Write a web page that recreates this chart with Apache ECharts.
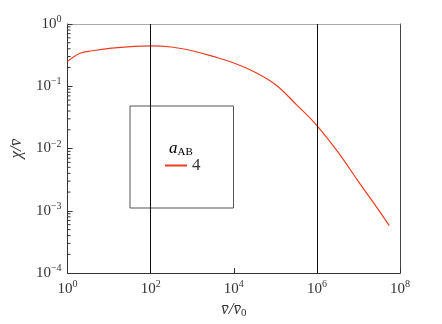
<!DOCTYPE html>
<html>
<head>
<meta charset="utf-8">
<script src="https://cdn.jsdelivr.net/npm/echarts@6/dist/echarts.min.js"></script>
<style>
  html, body { margin: 0; padding: 0; background: #fff; }
  #chart { width: 442px; height: 324px; }
</style>
</head>
<body>
<div id="chart"></div>
<script>
// curve (x = v/v0, y = chi/v)
const xVals = [1, 2, 4, 10, 32, 100, 316, 1000, 3160, 1e4, 3.16e4, 1e5, 3.16e5, 1e6, 3.16e6, 1e7, 3.16e7, 5.5e7];
const yVals = [0.251, 0.339, 0.372, 0.407, 0.432, 0.446, 0.427, 0.372, 0.302, 0.237, 0.170, 0.107, 0.0513, 0.0234, 0.0089, 0.00295, 0.00100, 0.00058];
const seriesName = '4';
const legendTitle = 'a';
const legendTitleSub = 'AB';
const refLines = [100, 1e6];
const yDecades = [1e-4, 1e-3, 1e-2, 1e-1];

const serif = 'Liberation Serif, DejaVu Serif, serif';
const red = '#f03c1e';

// minor ticks at 2..9 of each decade on the y axis
const minorTicks = [];
yDecades.forEach(function (d) {
  for (let k = 2; k <= 9; k++) minorTicks.push([1, d * k]);
});

function powLabel(v) {
  const e = Math.round(Math.log10(v));
  return '{b|10}{s|' + (e < 0 ? '\u2212' + (-e) : e) + '}';
}

const labelRich = {
  b: { fontFamily: serif, fontSize: 15, color: '#333' },
  s: { fontFamily: serif, fontSize: 10, color: '#333', padding: [0, 0, 9, 0] }
};

const chart = echarts.init(document.getElementById('chart'));
chart.setOption({
  animation: false,
  textStyle: { fontFamily: serif },
  grid: { left: 67, right: 42, top: 24, bottom: 49 },
  legend: {
    data: [seriesName],
    left: 130, top: 106,
    orient: 'vertical',
    padding: [51, 33, 34, 35],
    borderColor: '#555', borderWidth: 1,
    itemWidth: 22, itemHeight: 10, itemGap: 5,
    icon: 'path://M0,4L22,4L22,6L0,6Z',
    textStyle: { fontFamily: serif, fontSize: 17, color: '#333' }
  },
  graphic: [{
    type: 'text',
    left: 169, top: 140,
    style: {
      text: '{a|' + legendTitle + '}{s|' + legendTitleSub + '}',
      rich: {
        a: { fontFamily: serif, fontStyle: 'italic', fontSize: 17, color: '#333' },
        s: { fontFamily: serif, fontSize: 11, color: '#333', padding: [8, 0, 0, 0] }
      }
    }
  }],
  xAxis: [{
    type: 'log', logBase: 10, min: 1, max: 1e8, interval: 2,
    position: 'bottom',
    axisLine: { lineStyle: { color: '#333', width: 1 } },
    axisTick: { inside: true, length: 5, lineStyle: { color: '#333' } },
    axisLabel: { formatter: powLabel, rich: labelRich, margin: 6 },
    splitLine: { show: false },
    name: '{v|v\u0304/v\u0304}{s|0}',
    nameLocation: 'middle', nameGap: 22,
    nameTextStyle: {
      rich: {
        v: { fontFamily: serif, fontStyle: 'italic', fontSize: 17, color: '#333' },
        s: { fontFamily: serif, fontSize: 11, color: '#333', padding: [8, 0, 0, 0] }
      }
    }
  }, {
    type: 'log', logBase: 10, min: 1, max: 1e8,
    position: 'top',
    axisLine: { lineStyle: { color: '#aaa', width: 1 } },
    axisTick: { show: false }, axisLabel: { show: false }, splitLine: { show: false }
  }],
  yAxis: [{
    type: 'log', logBase: 10, min: 1e-4, max: 1, interval: 1,
    axisLine: { lineStyle: { color: '#333', width: 1 } },
    axisTick: { inside: true, length: 5, lineStyle: { color: '#333' } },
    axisLabel: { formatter: powLabel, rich: labelRich, margin: 6 },
    splitLine: { show: false },
    name: '\u03c7/v\u0304',
    nameLocation: 'middle', nameGap: 33, nameRotate: 90,
    nameTextStyle: { fontFamily: serif, fontStyle: 'italic', fontSize: 17, color: '#333' }
  }, {
    type: 'log', logBase: 10, min: 1e-4, max: 1,
    position: 'right',
    axisLine: { lineStyle: { color: '#444', width: 1 } },
    axisTick: { show: false }, axisLabel: { show: false }, splitLine: { show: false }
  }],
  series: [{
    name: seriesName,
    type: 'line',
    data: xVals.map(function (x, i) { return [x, yVals[i]]; }),
    smooth: 0.4,
    showSymbol: false,
    lineStyle: { color: red, width: 1.2 },
    itemStyle: { color: red },
    markLine: {
      silent: true, symbol: 'none',
      label: { show: false },
      lineStyle: { color: '#111', type: 'solid', width: 1 },
      data: refLines.map(function (v) { return { xAxis: v }; })
    }
  }, {
    name: 'minor',
    type: 'custom',
    silent: true,
    data: minorTicks,
    renderItem: function (params, api) {
      const p = api.coord([api.value(0), api.value(1)]);
      return {
        type: 'line',
        shape: { x1: p[0], y1: p[1], x2: p[0] + 3, y2: p[1] },
        style: { stroke: '#333', lineWidth: 1 }
      };
    }
  }]
});
</script>
</body>
</html>
